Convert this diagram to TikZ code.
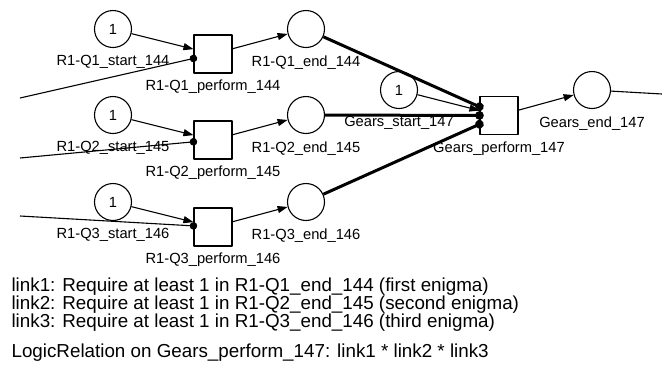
\documentclass[tikz,border=0pt]{standalone}
\usepackage{fontspec}
\setmainfont{Liberation Sans}
\usetikzlibrary{arrows.meta,positioning}
\begin{document}
\begin{tikzpicture}[x=1pt,y=-1pt,line join=round,line width=1.1pt,font=\fontsize{14.7}{17}\selectfont,
place/.style={draw,circle,minimum size=37pt,inner sep=0pt},
trans/.style={draw,minimum size=38pt,inner sep=0pt},
lbl/.style={inner sep=0pt},
arc/.style={-{Triangle[length=10pt,width=7pt]}},
test/.style={-{Circle[length=7.5pt]},shorten >=-3.75pt},
bigtest/.style={line width=3pt,-{Circle[length=8.5pt]},shorten >=-4.25pt},
txt/.style={anchor=base west,inner sep=0pt,font=\fontsize{18.8}{22}\selectfont}]
\useasboundingbox (0,0) rectangle (662,384);
% the three enigmas
\foreach \i/\n/\y/\z in {1/144/29/98,2/145/115/158,3/146/202/216}{
\node[place] (s\i) at (113,\y) {1};
\node[trans] (t\i) at (213,\y+25) {};
\node[place] (e\i) at (306,\y) {};
\coordinate (in\i) at (20,\z);
\node[lbl,below=7pt of s\i] (s\i l) {R1-Q\i\_start\_\n};
\node[lbl,below=6pt of t\i] (t\i l) {R1-Q\i\_perform\_\n};
\node[lbl,below=7pt of e\i] (e\i l) {R1-Q\i\_end\_\n};
\draw[arc] (s\i)--(t\i);
\draw[arc] (t\i)--(e\i);
\draw[test] (in\i)--(t\i);
}
% gears
\node[trans] (g) at (499,115.5) {};
\node[place] (gs) at (399,90) {1};
\node[place] (ge) at (592,90) {};
\coordinate (out) at (662,94);
\node[lbl,below=7pt of gs] (gsl) {Gears\_start\_147};
\node[lbl,below=6pt of g] (gl) {Gears\_perform\_147};
\node[lbl,below=7pt of ge] (gel) {Gears\_end\_147};
\draw[arc] (gs)--(g);
\draw[arc] (g)--(ge);
\draw (ge)--(out);
\draw[bigtest] (e1)--(g);
\draw[bigtest] (e2)--(g);
\draw[bigtest] (e3)--(g);
% text
\node[txt] (l1) at (11,291) {link1: Require at least 1 in R1-Q1\_end\_144 (first enigma)};
\node[txt] (l2) at (11,309) {link2: Require at least 1 in R1-Q2\_end\_145 (second enigma)};
\node[txt] (l3) at (11,327) {link3: Require at least 1 in R1-Q3\_end\_146 (third enigma)};
\node[txt] (lr) at (11,357) {LogicRelation on Gears\_perform\_147: link1 * link2 * link3};
\end{tikzpicture}
\end{document}
